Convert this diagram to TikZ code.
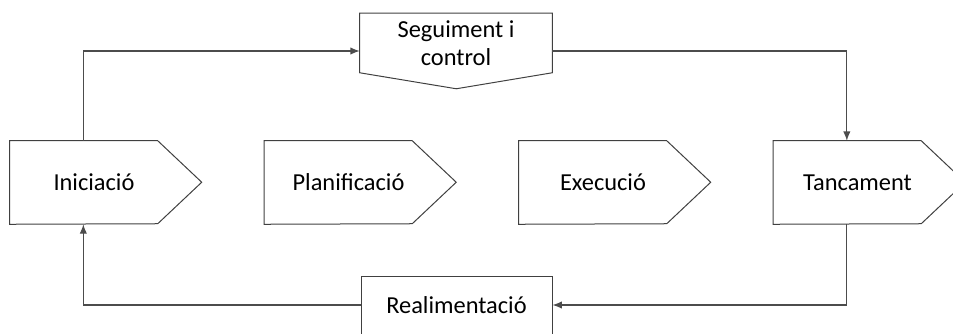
\documentclass[tikz,border=0pt]{standalone}
\usepackage{fontspec}
\setmainfont{Carlito}
\usetikzlibrary{arrows.meta}
\tikzset{
  box/.style={inner sep=0pt, align=center, font=\fontsize{18.3}{21}\selectfont},
  outline/.style={draw=black!75, line width=0.75pt},
  link/.style={draw=black!70, line width=0.9pt, -{Latex[length=7pt,width=5.5pt]}}
}
\begin{document}
\begin{tikzpicture}[x=0.75pt,y=-0.75pt]
\useasboundingbox (0,0) rectangle (953,333);
% the four phases, left to right
\foreach \name/\txt/\k in {ini/Iniciació/0, pla/Planificació/1, exe/Execució/2, tan/Tancament/3} {
  \node[box, minimum width=126pt, minimum height=62.25pt] (\name) at (94+254.5*\k,182.5) {\txt};
  \draw[outline] (\name.north west) -- ++(148,0) -- ++(44,41.5) -- ++(-44,41.5) -- (\name.south west) -- cycle;
}
% control on top, feedback below
\node[box, minimum width=144pt, minimum height=44.25pt] (seg) at (456,43) {Seguiment i\\control};
\draw[outline] (seg.north west) -- (seg.north east) -- (seg.south east) -- ++(-96,16) -- (seg.south west) -- cycle;
\node[box, outline, minimum width=143.25pt, minimum height=43.5pt] (rea) at (456.5,305) {Realimentació};
\draw[link] ([xshift=-8pt]ini.north) |- ([yshift=-6pt]seg.west);
\draw[link] ([yshift=-6pt]seg.east) -| ([xshift=-8pt]tan.north);
\draw[link] ([xshift=-8pt]tan.south) |- (rea.east);
\draw[link] (rea.west) -| ([xshift=-8pt]ini.south);
\end{tikzpicture}
\end{document}
